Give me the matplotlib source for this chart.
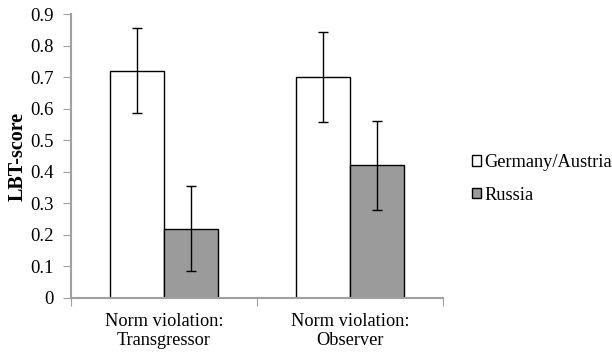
import numpy as np
import matplotlib
matplotlib.use("Agg")
import matplotlib.pyplot as plt

categories = ["Norm violation:\nTransgressor", "Norm violation:\nObserver"]
germany = [0.72, 0.70]
germany_err = [0.135, 0.142]
russia = [0.22, 0.42]
russia_err = [0.135, 0.142]
yticks = [0, 0.1, 0.2, 0.3, 0.4, 0.5, 0.6, 0.7, 0.8, 0.9]

plt.rcParams['font.family'] = ['Liberation Serif', 'DejaVu Serif']

fig = plt.figure(figsize=(6.12, 3.53), dpi=100)
ax = fig.add_axes([0.116, 0.156, 0.608, 0.804])

x = np.arange(len(categories))
w = 0.288
ax.bar(x - w / 2, germany, w, yerr=germany_err, color="white", edgecolor="black",
       linewidth=1.0, label="Germany/Austria",
       error_kw=dict(ecolor="black", elinewidth=1.0, capsize=3.5, capthick=1.0))
ax.bar(x + w / 2, russia, w, yerr=russia_err, color="#9b9b9b", edgecolor="black",
       linewidth=1.0, label="Russia",
       error_kw=dict(ecolor="black", elinewidth=1.0, capsize=3.5, capthick=1.0))

ax.set_xlim(-0.5, 1.5)
ax.set_ylim(0, 0.9)
ax.set_yticks(yticks)
ax.set_yticklabels([("%g" % t) for t in yticks], fontsize=13.5)
ax.set_xticks([-0.5, 0.5, 1.5])
ax.set_xticklabels([])
ax.set_xticks(x, minor=True)
ax.set_xticklabels(categories, minor=True, fontsize=13.2, linespacing=1.15)
ax.tick_params(axis="x", which="minor", length=0, pad=11)
ax.tick_params(axis="x", which="major", length=5.5, color="#a0a0a0", direction="out")
ax.tick_params(axis="y", length=5.5, color="#a0a0a0", direction="out", pad=7)

for s in ["top", "right"]:
    ax.spines[s].set_visible(False)
for s in ["left", "bottom"]:
    ax.spines[s].set_color("#a0a0a0")
    ax.spines[s].set_linewidth(1.5)

ax.set_ylabel("LBT-score", fontsize=14.5, fontweight="bold", labelpad=2)

ax.legend(loc="center left", bbox_to_anchor=(1.078, 0.42), frameon=False,
          fontsize=13.2, handlelength=0.5, handleheight=0.5, handletextpad=0.15,
          labelspacing=0.85, borderaxespad=0, borderpad=0)

fig.savefig("out.png", dpi=100)
